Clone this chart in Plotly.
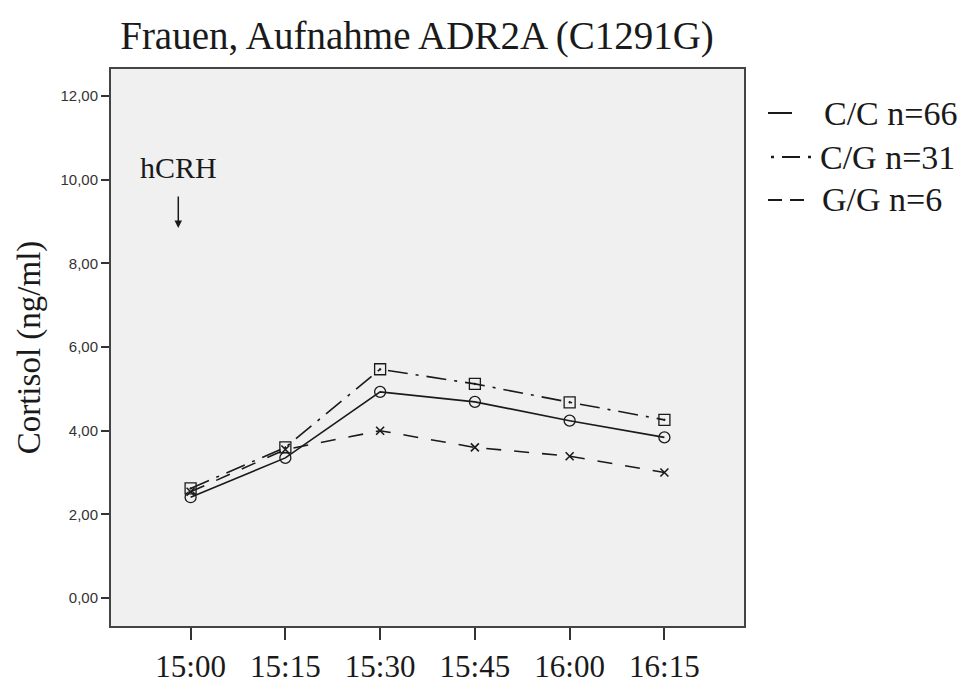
import plotly.graph_objects as go

times = ["15:00", "15:15", "15:30", "15:45", "16:00", "16:15"]
cc_values = [2.41, 3.35, 4.93, 4.69, 4.24, 3.84]
cg_values = [2.62, 3.60, 5.47, 5.12, 4.68, 4.26]
gg_values = [2.54, 3.55, 4.00, 3.60, 3.39, 3.00]
y_ticks = [0, 2, 4, 6, 8, 10, 12]
y_tick_labels = ["0,00", "2,00", "4,00", "6,00", "8,00", "10,00", "12,00"]
legend_labels = ["C/C n=66", "C/G n=31", "G/G n=6"]

ink = "#1a1a1a"
serif = "Liberation Serif, Times New Roman, serif"

fig = go.Figure()
fig.add_trace(go.Scatter(x=times, y=cc_values, mode="lines+markers",
                         line=dict(color=ink, width=1.6),
                         marker=dict(symbol="circle-open", size=11, color=ink, line=dict(width=1.3)),
                         showlegend=False))
fig.add_trace(go.Scatter(x=times, y=cg_values, mode="lines+markers",
                         line=dict(color=ink, width=1.6, dash="20px,8px,3px,8px"),
                         marker=dict(symbol="square-open-dot", size=11, color=ink, line=dict(width=1.3)),
                         showlegend=False))
fig.add_trace(go.Scatter(x=times, y=gg_values, mode="lines+markers",
                         line=dict(color=ink, width=1.6, dash="15px,13px"),
                         marker=dict(symbol="x-thin-open", size=8, color=ink, line=dict(width=1.6)),
                         showlegend=False))

W, H = 970, 689
L, R, T, B = 111, 744, 69, 626


def px(x):
    return (x - L) / (R - L)


def py(y):
    return (B - y) / (B - T)


shapes = []
# legend samples
shapes.append(dict(type="line", xref="paper", yref="paper", x0=px(768), x1=px(792), y0=py(113), y1=py(113),
                   line=dict(color=ink, width=2)))
for a, b in [(771, 774), (782, 800), (808, 811)]:
    shapes.append(dict(type="line", xref="paper", yref="paper", x0=px(a), x1=px(b), y0=py(157), y1=py(157),
                       line=dict(color=ink, width=2.5 if b - a < 5 else 2)))
for a, b in [(768, 782), (790, 804)]:
    shapes.append(dict(type="line", xref="paper", yref="paper", x0=px(a), x1=px(b), y0=py(200), y1=py(200),
                       line=dict(color=ink, width=2)))

annotations = []
for lab, x0, y0 in zip(legend_labels, [822, 818, 820], [113, 157, 200]):
    annotations.append(dict(text=lab, xref="paper", yref="paper", x=px(x0), y=py(y0), xanchor="left",
                            yanchor="middle", showarrow=False, font=dict(family=serif, size=34, color=ink)))

annotations.append(dict(text="hCRH", xref="x", yref="y", x=-0.13, y=10.3, showarrow=False,
                        font=dict(family=serif, size=30, color=ink)))
annotations.append(dict(text="", xref="x", yref="y", x=-0.13, y=8.85, ax=0, ay=-33, showarrow=True,
                        arrowhead=2, arrowsize=1, arrowwidth=1.5, arrowcolor=ink))

fig.update_layout(
    width=W, height=H,
    margin=dict(l=L, r=W - R, t=T, b=H - B),
    paper_bgcolor="white",
    plot_bgcolor="#f0f0f0",
    title=dict(text="Frauen, Aufnahme ADR2A (C1291G)", x=417 / W, xanchor="center", y=1 - 35 / H,
               yanchor="middle", font=dict(family=serif, size=39, color=ink), automargin=False),
    shapes=shapes,
    annotations=annotations,
    xaxis=dict(type="category", categoryorder="array", categoryarray=times, range=[-0.84, 5.84],
               automargin=False,
               showgrid=False, zeroline=False, showline=True, mirror=True, linecolor="#444", linewidth=2,
               ticks="outside", ticklen=12, tickwidth=1.5, tickcolor="#333",
               tickfont=dict(family=serif, size=31, color=ink)),
    yaxis=dict(range=[-0.67, 12.65], tickvals=y_ticks, ticktext=y_tick_labels, automargin=False,
               showgrid=False, zeroline=False, showline=True, mirror=True, linecolor="#444", linewidth=2,
               ticks="outside", ticklen=8, tickwidth=1.5, tickcolor="#333",
               tickfont=dict(family="Liberation Sans, Arial, sans-serif", size=15, color="#333"),
               title=dict(text="Cortisol (ng/ml)", font=dict(family=serif, size=33, color=ink), standoff=10)),
)

fig.write_html("out.html")
